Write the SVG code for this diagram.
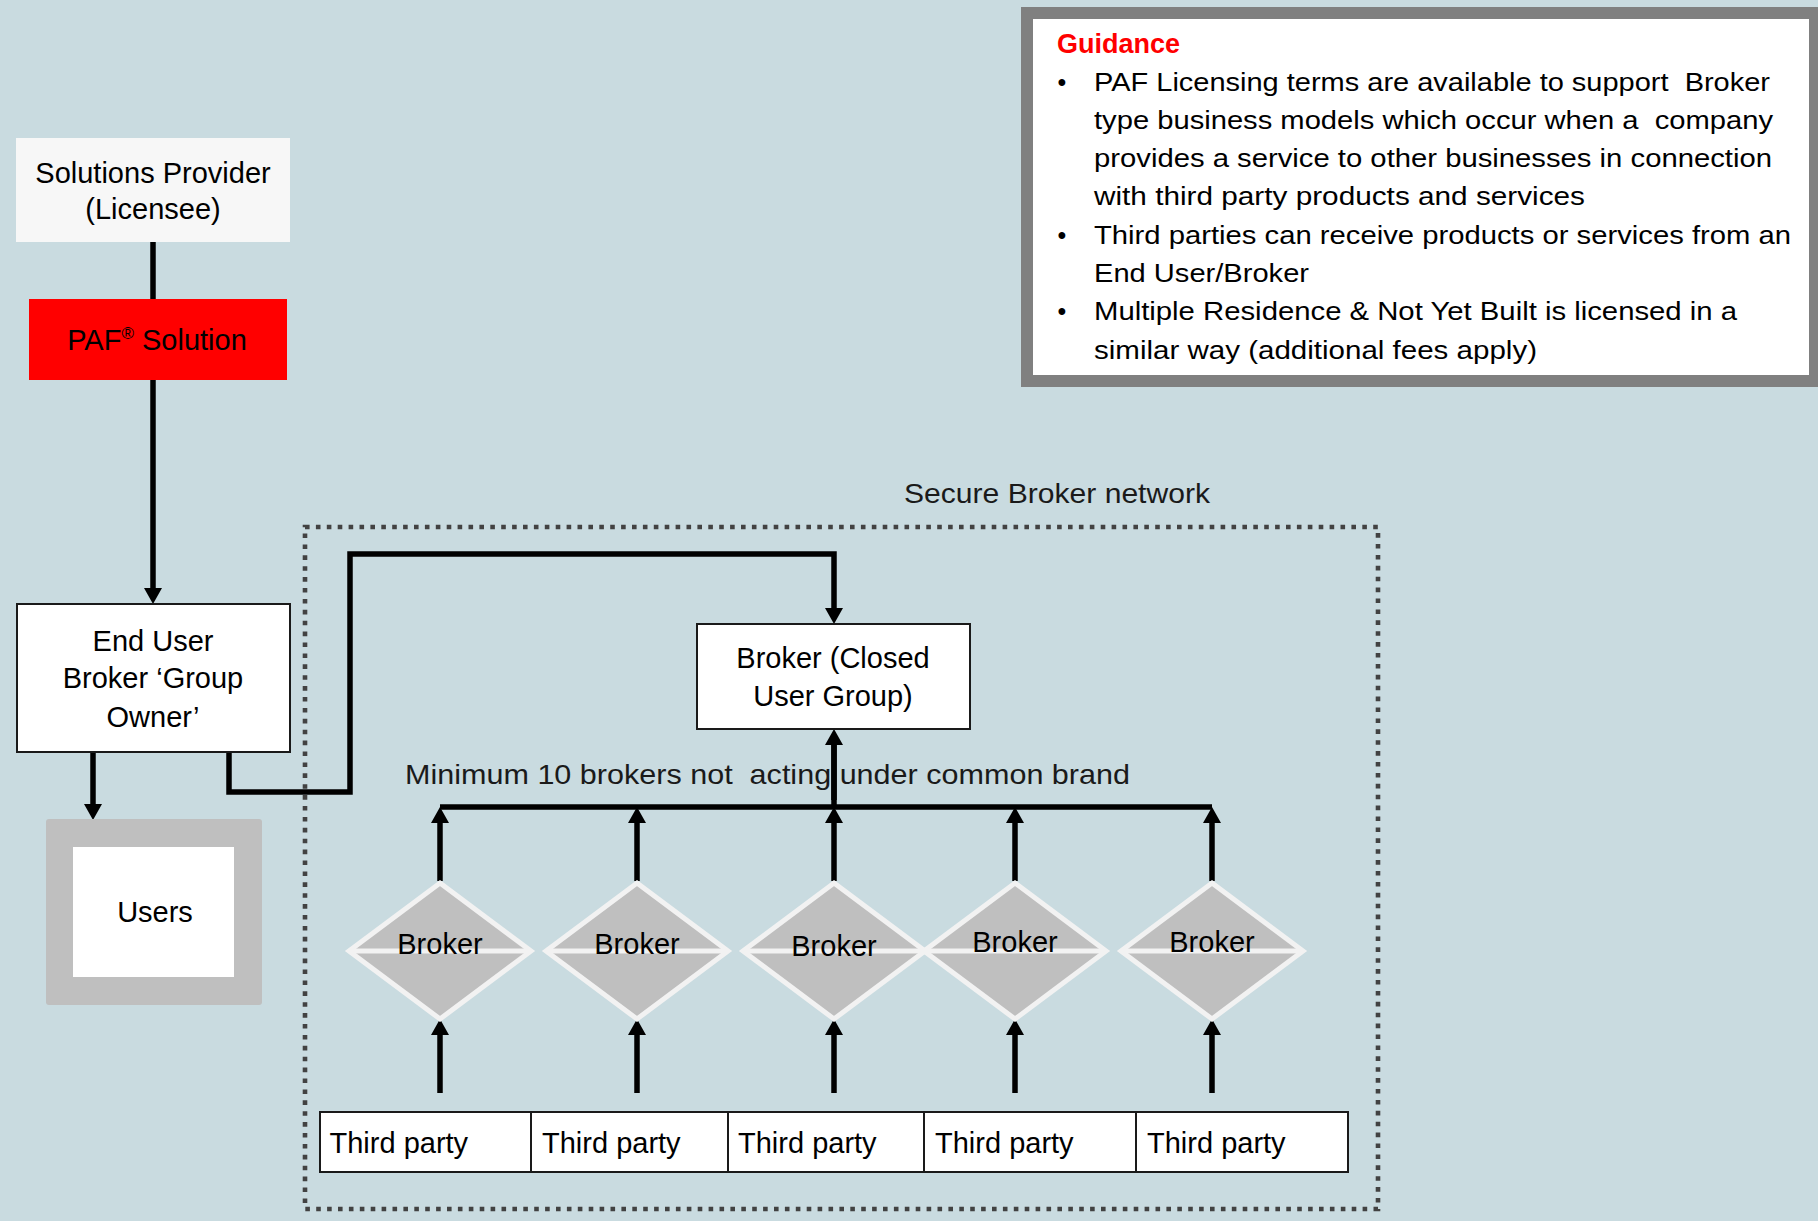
<svg xmlns="http://www.w3.org/2000/svg" width="1818" height="1221" viewBox="0 0 1818 1221">
<defs>
<style>
.t{font-family:"Liberation Sans",Arial,sans-serif;font-size:29px;fill:#000}
.c{text-anchor:middle}
.g{font-family:"Liberation Sans",Arial,sans-serif;font-size:25px;fill:#000}
.n{font-family:"Liberation Sans",Arial,sans-serif;font-size:28px;fill:#1a1a1a}
.ln{fill:none;stroke:#000;stroke-width:5.5}
.ar{fill:none;stroke:#000;stroke-width:5.5;marker-end:url(#ah)}
.dia{fill:#bfbfbf;stroke:#f2f2f2;stroke-width:5;stroke-linejoin:miter}
.mid{stroke:#f2f2f2;stroke-width:5}
.box{fill:#fff;stroke:#1a1a1a;stroke-width:2}
</style>
<marker id="ah" viewBox="0 0 16 18" refX="4" refY="9" markerWidth="16" markerHeight="18" markerUnits="userSpaceOnUse" orient="auto">
<path d="M0,0 L16,9 L0,18 z" fill="#000"/>
</marker>
</defs>
<rect x="0" y="0" width="1818" height="1221" fill="#c9dbe0"/>

<!-- Guidance -->
<g id="guidance">
<rect x="1021" y="7" width="810" height="380" fill="#808080"/>
<rect x="1033" y="19" width="776" height="356" fill="#fff"/>
<text x="1057" y="53" font-family="Liberation Sans, Arial, sans-serif" font-size="27" font-weight="bold" fill="#ff0000">Guidance</text>
<text class="g" x="1062" y="90.5" text-anchor="middle">•</text>
<text class="g" x="1062" y="243.7" text-anchor="middle">•</text>
<text class="g" x="1062" y="320.3" text-anchor="middle">•</text>
<text class="g" x="1094" y="90.5" xml:space="preserve" textLength="676" lengthAdjust="spacingAndGlyphs">PAF Licensing terms are available to support  Broker</text>
<text class="g" x="1094" y="128.8" xml:space="preserve" textLength="679" lengthAdjust="spacingAndGlyphs">type business models which occur when a  company</text>
<text class="g" x="1094" y="167.1" textLength="678" lengthAdjust="spacingAndGlyphs">provides a service to other businesses in connection</text>
<text class="g" x="1094" y="205.4" textLength="491" lengthAdjust="spacingAndGlyphs">with third party products and services</text>
<text class="g" x="1094" y="243.7" textLength="697" lengthAdjust="spacingAndGlyphs">Third parties can receive products or services from an</text>
<text class="g" x="1094" y="282" textLength="215" lengthAdjust="spacingAndGlyphs">End User/Broker</text>
<text class="g" x="1094" y="320.3" textLength="643" lengthAdjust="spacingAndGlyphs">Multiple Residence &amp; Not Yet Built is licensed in a</text>
<text class="g" x="1094" y="358.6" textLength="443" lengthAdjust="spacingAndGlyphs">similar way (additional fees apply)</text>
</g>

<!-- Secure network boundary -->
<g id="secure-network">
<rect x="305" y="527" width="1073" height="682" fill="none" stroke="#424242" stroke-width="4.6" stroke-dasharray="4.6 6.3"/>
<text class="n" x="904" y="503" textLength="306" lengthAdjust="spacingAndGlyphs">Secure Broker network</text>
</g>

<!-- Connectors -->
<g id="connectors">
<line class="ln" x1="153" y1="242" x2="153" y2="299"/>
<line class="ar" x1="153" y1="380" x2="153" y2="592"/>
<line class="ar" x1="93" y1="752" x2="93" y2="808"/>
<polyline class="ar" points="229,752 229,792 350,792 350,554 834,554 834,612"/>
<line class="ln" x1="440" y1="807" x2="1212" y2="807"/>
<line class="ar" x1="834" y1="807" x2="834" y2="741"/>
<line class="ar" x1="440" y1="881" x2="440" y2="819"/>
<line class="ar" x1="637" y1="881" x2="637" y2="819"/>
<line class="ar" x1="834" y1="881" x2="834" y2="819"/>
<line class="ar" x1="1015" y1="881" x2="1015" y2="819"/>
<line class="ar" x1="1212" y1="881" x2="1212" y2="819"/>
<line class="ar" x1="440" y1="1093" x2="440" y2="1031"/>
<line class="ar" x1="637" y1="1093" x2="637" y2="1031"/>
<line class="ar" x1="834" y1="1093" x2="834" y2="1031"/>
<line class="ar" x1="1015" y1="1093" x2="1015" y2="1031"/>
<line class="ar" x1="1212" y1="1093" x2="1212" y2="1031"/>
</g>

<text class="n" x="405" y="784" xml:space="preserve" textLength="725" lengthAdjust="spacingAndGlyphs">Minimum 10 brokers not  acting under common brand</text>
<line x1="834" y1="741" x2="834" y2="800" stroke="#000" stroke-width="5.5"/>

<!-- Nodes -->
<g id="solutions-provider">
<rect x="16" y="138" width="274" height="104" fill="#f7f7f7"/>
<text class="t c" x="153" y="183" font-size="30">Solutions Provider</text>
<text class="t c" x="153" y="219" font-size="30">(Licensee)</text>
</g>

<g id="paf-solution">
<rect x="29" y="299" width="258" height="81" fill="#ff0000"/>
<text class="t c" x="157" y="350" font-size="29.5">PAF<tspan font-size="17" dy="-11">®</tspan><tspan dy="11"> Solution</tspan></text>
</g>

<g id="end-user">
<rect class="box" x="17" y="604" width="273" height="148"/>
<text class="t c" x="153" y="651" font-size="29.5">End User</text>
<text class="t c" x="153" y="688" font-size="29.5">Broker ‘Group</text>
<text class="t c" x="153" y="727" font-size="29.5">Owner’</text>
</g>

<g id="users">
<rect x="46" y="819" width="216" height="186" rx="3" fill="#bfbfbf"/>
<rect x="73" y="847" width="161" height="130" fill="#fff"/>
<text class="t c" x="155" y="922" font-size="28">Users</text>
</g>

<g id="broker-cug">
<rect class="box" x="697" y="624" width="273" height="105"/>
<text class="t c" x="833" y="668">Broker (Closed</text>
<text class="t c" x="833" y="706">User Group)</text>
</g>

<g id="broker-1">
<polygon class="dia" points="440,883 531,951 440,1019 349,951"/>
<line class="mid" x1="349" y1="951" x2="531" y2="951"/>
<text class="t c" x="440" y="954" font-size="30">Broker</text>
</g>
<g id="broker-2">
<polygon class="dia" points="637,883 728,951 637,1019 546,951"/>
<line class="mid" x1="546" y1="951" x2="728" y2="951"/>
<text class="t c" x="637" y="954" font-size="30">Broker</text>
</g>
<g id="broker-3">
<polygon class="dia" points="834,883 925,951 834,1019 743,951"/>
<line class="mid" x1="743" y1="951" x2="925" y2="951"/>
<text class="t c" x="834" y="956" font-size="27.5">Broker</text>
</g>
<g id="broker-4">
<polygon class="dia" points="1015,883 1106,951 1015,1019 924,951"/>
<line class="mid" x1="924" y1="951" x2="1106" y2="951"/>
<text class="t c" x="1015" y="952" font-size="30">Broker</text>
</g>
<g id="broker-5">
<polygon class="dia" points="1212,883 1303,951 1212,1019 1121,951"/>
<line class="mid" x1="1121" y1="951" x2="1303" y2="951"/>
<text class="t c" x="1212" y="952" font-size="30">Broker</text>
</g>

<g id="third-party-1">
<rect class="box" x="320" y="1112" width="211" height="60"/>
<text class="t" x="329.5" y="1153" font-size="31">Third party</text>
</g>
<g id="third-party-2">
<rect class="box" x="531" y="1112" width="197" height="60"/>
<text class="t" x="542" y="1153" font-size="31">Third party</text>
</g>
<g id="third-party-3">
<rect class="box" x="728" y="1112" width="196" height="60"/>
<text class="t" x="738" y="1153" font-size="31">Third party</text>
</g>
<g id="third-party-4">
<rect class="box" x="924" y="1112" width="212" height="60"/>
<text class="t" x="935" y="1153" font-size="31">Third party</text>
</g>
<g id="third-party-5">
<rect class="box" x="1136" y="1112" width="212" height="60"/>
<text class="t" x="1147" y="1153" font-size="31">Third party</text>
</g>
</svg>
